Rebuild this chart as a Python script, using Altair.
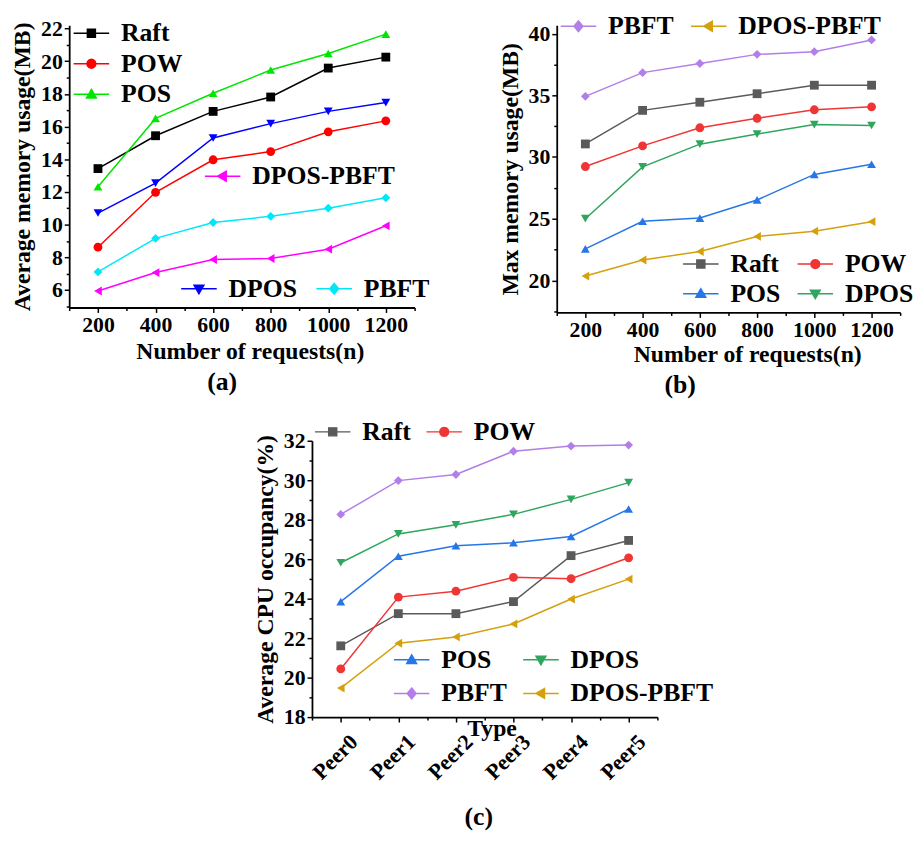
import altair as alt
import pandas as pd

FONT = "Liberation Serif"

series = ["Raft", "POW", "POS", "DPOS", "PBFT", "DPOS-PBFT"]
markers = ["square", "circle", "triangle-up", "triangle-down", "diamond", "triangle-left"]
legend_paths = [
    "M-4,0H4M-0.9,-0.9H0.9V0.9H-0.9Z",
    "M-4,0H4M-1,0L-0.87,0.5L-0.5,0.87L0,1L0.5,0.87L0.87,0.5L1,0L0.87,-0.5L0.5,-0.87L0,-1L-0.5,-0.87L-0.87,-0.5Z",
    "M-4,0H4M0,-1.1L1.1,0.8L-1.1,0.8Z",
    "M-4,0H4M0,1.1L1.1,-0.8L-1.1,-0.8Z",
    "M-4,0H4M0,-1.2L1,0L0,1.2L-1,0Z",
    "M-4,0H4M-1.1,0L0.8,-1.1L0.8,1.1Z",
]

requests = [200, 400, 600, 800, 1000, 1200]
peers = ["Peer0", "Peer1", "Peer2", "Peer3", "Peer4", "Peer5"]
peer_index = [0, 1, 2, 3, 4, 5]

# (a) Average memory usage (MB)
avg_raft = [13.43, 15.44, 16.93, 17.81, 19.58, 20.25]
avg_pow = [8.62, 11.98, 13.97, 14.47, 15.68, 16.35]
avg_pos = [12.32, 16.50, 18.04, 19.46, 20.47, 21.66]
avg_dpos = [10.71, 12.54, 15.30, 16.18, 16.93, 17.47]
avg_pbft = [7.11, 9.16, 10.13, 10.51, 11.01, 11.64]
avg_dpos_pbft = [5.94, 7.07, 7.87, 7.93, 8.50, 9.93]

# (b) Max memory usage (MB)
max_raft = [31.06, 33.78, 34.44, 35.13, 35.82, 35.82]
max_pow = [29.23, 30.90, 32.37, 33.14, 33.83, 34.07]
max_pos = [22.55, 24.79, 25.05, 26.52, 28.59, 29.41]
max_dpos = [25.00, 29.20, 31.04, 31.86, 32.63, 32.55]
max_pbft = [34.92, 36.84, 37.58, 38.32, 38.54, 39.49]
max_dpos_pbft = [20.35, 21.65, 22.34, 23.56, 23.99, 24.76]

# (c) Average CPU occupancy (%)
cpu_raft = [21.61, 23.24, 23.24, 23.85, 26.18, 26.95]
cpu_pow = [20.44, 24.08, 24.38, 25.08, 25.01, 26.07]
cpu_pos = [23.85, 26.15, 26.68, 26.83, 27.15, 28.54]
cpu_dpos = [25.82, 27.28, 27.74, 28.27, 29.03, 29.88]
cpu_pbft = [28.27, 29.98, 30.29, 31.47, 31.73, 31.78]
cpu_dpos_pbft = [19.47, 21.74, 22.06, 22.72, 23.98, 24.99]

colors_a = ["#000000", "#ff0000", "#00e600", "#0000ff", "#00e8f8", "#ff00ff"]
colors_bc = ["#5a5a5a", "#f03535", "#2676e8", "#2fa55d", "#b27ee8", "#d4a00c"]


def long_df(xs, cols):
    rows = []
    for name, vals in zip(series, cols):
        for x, v in zip(xs, vals):
            rows.append({"x": x, "value": v, "series": name})
    return pd.DataFrame(rows)


df_a = long_df(requests, [avg_raft, avg_pow, avg_pos, avg_dpos, avg_pbft, avg_dpos_pbft])
df_b = long_df(requests, [max_raft, max_pow, max_pos, max_dpos, max_pbft, max_dpos_pbft])
df_c = long_df(peer_index, [cpu_raft, cpu_pow, cpu_pos, cpu_dpos, cpu_pbft, cpu_dpos_pbft])


def panel(df, colors, xdom, xmajor, xminor, ydom, ymajor, yminor, xtitle, ytitle,
          w, h, legends, tag, tag_dx, tag_offset, xaxis_extra, shift=0):
    if shift:
        xs = alt.Scale(domain=xdom, nice=False, zero=False, range=[shift, shift + w])
    else:
        xs = alt.Scale(domain=xdom, nice=False, zero=False)
    ys = alt.Scale(domain=ydom, nice=False, zero=False)
    base = alt.Chart(df)
    xkw = dict(values=xmajor, title=xtitle, orient="bottom", titleBaseline="middle",
               format="d")
    xkw.update(xaxis_extra)
    major_x = alt.Axis(**xkw)
    major_y = alt.Axis(values=ymajor, title=ytitle, orient="left", titleX=-47,
                       titleBaseline="middle", format="d", offset=-shift)
    minor_x = alt.Axis(values=xminor, orient="bottom", labels=False, domain=False,
                       tickSize=3, title=None)
    minor_y = alt.Axis(values=yminor, orient="left", labels=False, domain=False,
                       tickSize=3, title=None, offset=-shift)
    cscale = alt.Scale(domain=series, range=colors)
    line = base.mark_line(strokeWidth=1.5).encode(
        x=alt.X("x:Q", scale=xs, axis=major_x),
        y=alt.Y("value:Q", scale=ys, axis=major_y),
        color=alt.Color("series:N", scale=cscale, legend=None),
    )
    pts = base.mark_point(filled=True, size=80, opacity=1).encode(
        x=alt.X("x:Q", scale=xs, axis=minor_x),
        y=alt.Y("value:Q", scale=ys, axis=minor_y),
        color=alt.Color("series:N", scale=cscale, legend=None),
        shape=alt.Shape("series:N", scale=alt.Scale(domain=series, range=markers), legend=None),
    )
    layers = [line, pts]
    for grp, opts in legends:
        gcol = [colors[series.index(s)] for s in grp]
        gpath = [legend_paths[series.index(s)] for s in grp]
        opts = dict(opts)
        opts["legendX"] = opts["legendX"] + shift
        leg = alt.Legend(orient="none", title=None, labelFont=FONT, labelFontSize=26,
                         labelFontWeight="bold", labelColor="black", symbolSize=81,
                         symbolStrokeWidth=1.5, symbolOpacity=1, symbolOffset=5,
                         labelOffset=17, labelLimit=400, direction="horizontal", **opts)
        lay = base.transform_filter(
            alt.FieldOneOfPredicate(field="series", oneOf=grp)
        ).mark_point(filled=True, size=81, opacity=0).encode(
            x=alt.X("x:Q", scale=xs, axis=None),
            y=alt.Y("value:Q", scale=ys, axis=None),
            fill=alt.Fill("series:N", scale=alt.Scale(domain=grp, range=gcol), legend=leg),
            stroke=alt.Stroke("series:N", scale=alt.Scale(domain=grp, range=gcol), legend=leg),
            shape=alt.Shape("series:N", scale=alt.Scale(domain=grp, range=gpath), legend=leg),
        )
        layers.append(lay)
    return alt.layer(*layers).resolve_scale(
        color="independent", fill="independent", stroke="independent", shape="independent"
    ).resolve_axis(x="independent", y="independent").properties(
        width=w, height=h,
        title=alt.TitleParams(tag, orient="bottom", font=FONT, fontSize=26, fontWeight="bold",
                              color="black", anchor="middle", frame="group", dx=tag_dx + shift,
                              offset=tag_offset),
    )


req_minor = [100, 300, 500, 700, 900, 1100, 1300]

pa = panel(
    df_a, colors_a, [100, 1300], requests, req_minor,
    [4.93, 22.2], [6, 8, 10, 12, 14, 16, 18, 20, 22], [5, 7, 9, 11, 13, 15, 17, 19, 21],
    "Number of requests(n)", "Average memory usage(MB)", 350, 286,
    [
        (["Raft", "POW", "POS"], dict(legendX=4.5, legendY=-5, columns=1, rowPadding=5)),
        (["DPOS-PBFT"], dict(legendX=137.5, legendY=140, columns=1)),
        (["DPOS", "PBFT"], dict(legendX=113.5, legendY=254, columns=2, columnPadding=16,
                                 gridAlign="none")),
    ],
    "(a)", -20, 6, dict(titleY=45, titleX=183),
)

pb = panel(
    df_b, colors_bc, [100, 1300], requests, req_minor,
    [17.4, 40.68], [20, 25, 30, 35, 40], [17.5, 22.5, 27.5, 32.5, 37.5],
    "Number of requests(n)", "Max memory usage(MB)", 348, 291,
    [
        (["PBFT", "DPOS-PBFT"], dict(legendX=4, legendY=-12, columns=2, columnPadding=14,
                                      gridAlign="none")),
        (["Raft", "POW", "POS", "DPOS"], dict(legendX=128, legendY=229, columns=2,
                                               columnPadding=14, rowPadding=4)),
    ],
    "(b)", -49, 6, dict(titleY=43, titleX=193),
)

C_SHIFT = 246
peer_expr = str(peers) + "[datum.value]"
pc = panel(
    df_c, colors_bc, [-0.5, 5.5], peer_index, [-0.5, 0.5, 1.5, 2.5, 3.5, 4.5, 5.5],
    [18, 32], [18, 20, 22, 24, 26, 28, 30, 32], [19, 21, 23, 25, 27, 29, 31],
    "Type", "Average CPU occupancy(%)", 350, 280,
    [
        (["Raft", "POW"], dict(legendX=3, legendY=-22, columns=2, columnPadding=12,
                               gridAlign="none")),
        (["POS", "DPOS", "PBFT", "DPOS-PBFT"], dict(legendX=83, legendY=209, columns=2,
                                                     columnPadding=13, rowPadding=8,
                                                     gridAlign="none")),
    ],
    "(c)", -6, 22,
    dict(titleY=12, titleX=182 + C_SHIFT, labelExpr=peer_expr, labelAngle=315,
         labelAlign="right", labelBaseline="top", labelPadding=9, labelOffset=6),
    shift=C_SHIFT,
)

chart = alt.concat(
    pa, pb, pc, columns=2, bounds="flush",
    spacing={"row": 130, "column": 144},
).properties(
    padding={"left": 3, "top": 0, "right": 0, "bottom": 0},
    background="white",
).configure_view(stroke=None).configure_axis(
    labelFont=FONT, labelFontSize=22, labelFontWeight="bold", labelColor="black",
    titleFont=FONT, titleFontSize=24, titleFontWeight="bold", titleColor="black",
    domainColor="black", domainWidth=1.8, tickColor="black", tickWidth=1.5, tickSize=5,
    labelPadding=2, grid=False,
)

chart.save("out.html", embed_options={"renderer": "svg", "actions": False})
